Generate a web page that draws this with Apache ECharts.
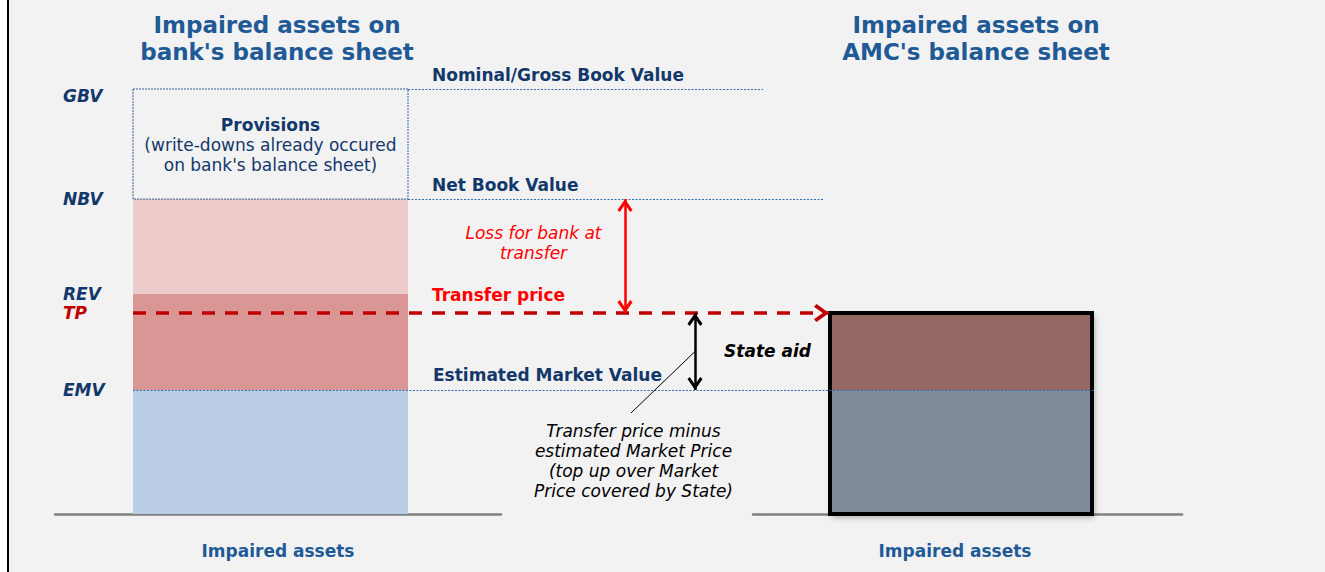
<!DOCTYPE html>
<html>
<head>
<meta charset="utf-8">
<title>Impaired assets transfer</title>
<script src="https://cdn.jsdelivr.net/npm/echarts@6/dist/echarts.min.js"></script>
<style>
html, body { margin: 0; padding: 0; background: #fff; }
#chart { position: absolute; left: 0; top: 0; width: 1325px; height: 572px; }
.frame { position: absolute; left: 0; top: 0; width: 7px; height: 572px; background: #fff; border-right: 2px solid #000; }
</style>
</head>
<body>
<div id="chart"></div>
<div class="frame"></div>
<script>
// value levels, in % of gross book value
const levelNames = ['GBV', 'NBV', 'REV', 'TP', 'EMV'];
const levelValues = [100, 74.1, 51.8, 47.3, 29.2];
const categories = ['Impaired assets'];
// stacks, bottom to top, each entry is the level at the segment's top
const bankStackTops = ['EMV', 'REV', 'NBV', 'GBV'];
const amcStackTops = ['EMV', 'TP'];
// reference lines with their captions
const refLineLevels = ['GBV', 'NBV', 'EMV'];
const refLineCaptions = ['Nominal/Gross Book Value', 'Net Book Value', 'Estimated Market Value'];

const FONT = "'DejaVu Sans', Verdana, sans-serif";
const FS = 17;
const NAVY = '#12386b';
const TITLE_BLUE = '#1f5a96';
const DOT_BLUE = '#2e6fb0';

const lv = name => levelValues[levelNames.indexOf(name)];

// layout (px)
const refLineX = { GBV: [408, 763], NBV: [408, 823], EMV: [133, 1094] };
const tpLineX = [133, 829];
const lossArrowX = 625;
const aidArrowX = 695;

const bankStyles = [
	{ fill: '#b9cde5' },
	{ fill: '#d99694' },
	{ fill: '#edcbca' },
	{ fill: 'none', stroke: '#2f5f93', lineWidth: 1, lineDash: [2, 1] }
];
const amcStyles = [{ fill: '#7f8b9b' }, { fill: '#956865' }];

function stackRects(api, tops, styles, width, shift) {
	const out = [];
	let prev = 0;
	tops.forEach((name, i) => {
		const top = lv(name);
		const p0 = api.coord([0, prev]);
		const p1 = api.coord([0, top]);
		out.push({
			type: 'rect',
			shape: { x: p0[0] + shift - width / 2, y: p1[1], width: width, height: p0[1] - p1[1] },
			style: styles[i]
		});
		prev = top;
	});
	return out;
}

function bankBar(params, api) {
	const w = 275, shift = -7.5;
	const children = stackRects(api, bankStackTops, bankStyles, w, shift);
	const a = api.coord([0, lv('GBV')]);
	const b = api.coord([0, lv('NBV')]);
	children.push({
		type: 'text',
		style: {
			x: a[0] + shift, y: (a[1] + b[1]) / 2 + 1,
			text: "{b|Provisions}\n(write-downs already occured\non bank's balance sheet)",
			align: 'center', verticalAlign: 'middle',
			fill: NAVY, fontSize: FS, fontFamily: FONT, lineHeight: 20,
			rich: { b: { fontWeight: 'bold', fontSize: FS, fontFamily: FONT, fill: NAVY, lineHeight: 20 } }
		}
	});
	return { type: 'group', children: children };
}

function amcBar(params, api) {
	const w = 262, shift = -6.5;
	const p0 = api.coord([0, 0]);
	const p1 = api.coord([0, lv('TP')]);
	const box = { x: p0[0] + shift - w / 2, y: p1[1], width: w, height: p0[1] - p1[1] };
	const children = [{
		type: 'rect', shape: box,
		style: { fill: '#7f8b9b', shadowBlur: 6, shadowOffsetX: 2, shadowOffsetY: 3, shadowColor: 'rgba(0,0,0,0.35)' }
	}];
	stackRects(api, amcStackTops, amcStyles, w, shift).forEach(r => children.push(r));
	children.push({ type: 'rect', shape: box, style: { fill: 'none', stroke: '#000', lineWidth: 4 } });
	return { type: 'group', children: children };
}

const chevron = 'path://M8,0 L16,10 L13.6,12 L8,5 L2.4,12 L0,10 Z';
const lineLabelBase = {
	show: true, position: 'insideStartTop', color: NAVY, fontWeight: 'bold',
	fontSize: FS, fontFamily: FONT
};

const markLines = [];
refLineLevels.forEach((name, i) => {
	markLines.push([
		{
			coord: [refLineX[name][0], lv(name)],
			lineStyle: { color: DOT_BLUE, width: 1, type: [2, 1.5] },
			label: Object.assign({}, lineLabelBase, {
				formatter: refLineCaptions[i],
				distance: [name === 'EMV' ? 300 : 24, 6]
			})
		},
		{ coord: [refLineX[name][1], lv(name)] }
	]);
});
// transfer price dashed arrow
markLines.push([
	{
		coord: [tpLineX[0], lv('TP')],
		symbol: 'none',
		lineStyle: { color: '#c00000', width: 3.5, type: [13, 10] },
		label: Object.assign({}, lineLabelBase, { formatter: 'Transfer price', color: '#ff0000', distance: [299, 9] })
	},
	{ coord: [tpLineX[1], lv('TP')], symbol: chevron, symbolSize: [18, 15], symbolOffset: [0, '50%'] }
]);
// loss for bank: NBV down to TP
markLines.push([
	{
		coord: [lossArrowX, lv('NBV')], symbol: chevron, symbolSize: [15, 13], symbolOffset: [0, '50%'],
		lineStyle: { color: '#ff0000', width: 2.5, type: 'solid' }, label: { show: false }
	},
	{ coord: [lossArrowX, lv('TP')], symbol: chevron, symbolSize: [15, 13], symbolOffset: [0, '50%'] }
]);
// state aid: TP down to EMV
markLines.push([
	{
		coord: [aidArrowX, lv('TP')], symbol: chevron, symbolSize: [15, 13], symbolOffset: [0, '50%'],
		lineStyle: { color: '#000', width: 2.5, type: 'solid' }, label: { show: false }
	},
	{ coord: [aidArrowX, lv('EMV')], symbol: chevron, symbolSize: [15, 13], symbolOffset: [0, '50%'] }
]);
// leader line to the note
markLines.push([
	{
		coord: [aidArrowX, (lv('TP') + lv('EMV')) / 2], symbol: 'none',
		lineStyle: { color: '#000', width: 1, type: 'solid' }, label: { show: false }
	},
	{ x: 631, y: 413, symbol: 'none' }
]);

function levelLabel(v) {
	let best = 0;
	levelValues.forEach((x, i) => { if (Math.abs(x - v) < Math.abs(levelValues[best] - v)) best = i; });
	const n = levelNames[best];
	const style = n === 'TP' ? 'red' : (n === 'GBV' ? 'low' : 'navy');
	return '{' + style + '|' + n + '}';
}
const levelFont = { fontStyle: 'italic', fontWeight: 'bold', fontSize: FS, fontFamily: FONT };

const axisLabelStyle = { color: TITLE_BLUE, fontWeight: 'bold', fontSize: FS, fontFamily: FONT, margin: 28 };
const gridBox = { top: 89, bottom: 58, outerBoundsMode: 'none', containLabel: false };

const option = {
	animation: false,
	backgroundColor: '#f2f2f2',
	grid: [
		Object.assign({ left: 55, width: 446 }, gridBox),
		Object.assign({ left: 753, width: 429 }, gridBox),
		Object.assign({ left: 0, right: 0 }, gridBox)
	],
	xAxis: [
		{
			gridIndex: 0, type: 'category', data: categories,
			axisLine: { lineStyle: { color: '#808080', width: 2.5 } }, axisTick: { show: false },
			axisLabel: axisLabelStyle
		},
		{
			gridIndex: 1, type: 'category', data: categories,
			axisLine: { lineStyle: { color: '#808080', width: 2.5 } }, axisTick: { show: false },
			axisLabel: Object.assign({ padding: [0, 25, 0, 0] }, axisLabelStyle)
		},
		{ gridIndex: 2, type: 'value', min: 0, max: 1325, show: false }
	],
	yAxis: [
		{
			gridIndex: 0, type: 'value', min: 0, max: 100,
			axisLine: { show: false }, axisTick: { show: false }, splitLine: { show: false },
			axisLabel: {
				inside: true, margin: 8, customValues: levelValues, formatter: levelLabel,
				rich: {
					navy: Object.assign({ color: NAVY }, levelFont),
					low: Object.assign({ color: NAVY, padding: [14, 0, 0, 0] }, levelFont),
					red: Object.assign({ color: '#c00000' }, levelFont)
				}
			}
		},
		{ gridIndex: 1, type: 'value', min: 0, max: 100, show: false },
		{ gridIndex: 2, type: 'value', min: 0, max: 100, show: false }
	],
	graphic: [
		{
			type: 'text', x: 277, y: 38.5, silent: true,
			style: {
				text: "Impaired assets on\nbank's balance sheet", align: 'center', verticalAlign: 'middle',
				fill: TITLE_BLUE, fontWeight: 'bold', fontSize: 23, fontFamily: FONT, lineHeight: 27
			}
		},
		{
			type: 'text', x: 976, y: 38.5, silent: true,
			style: {
				text: "Impaired assets on\nAMC's balance sheet", align: 'center', verticalAlign: 'middle',
				fill: TITLE_BLUE, fontWeight: 'bold', fontSize: 23, fontFamily: FONT, lineHeight: 27
			}
		},
		{
			type: 'text', x: 533.5, y: 243, silent: true,
			style: {
				text: 'Loss for bank at\ntransfer', align: 'center', verticalAlign: 'middle',
				fill: '#ff0000', fontStyle: 'italic', fontSize: FS, fontFamily: FONT, lineHeight: 20
			}
		},
		{
			type: 'text', x: 767.5, y: 351, silent: true,
			style: {
				text: 'State aid', align: 'center', verticalAlign: 'middle',
				fill: '#000', fontStyle: 'italic', fontWeight: 'bold', fontSize: FS, fontFamily: FONT
			}
		},
		{
			type: 'text', x: 633.5, y: 461, silent: true,
			style: {
				text: 'Transfer price minus\nestimated Market Price\n(top up over Market\nPrice covered by State)',
				align: 'center', verticalAlign: 'middle',
				fill: '#000', fontStyle: 'italic', fontSize: FS, fontFamily: FONT, lineHeight: 20
			}
		}
	],
	series: [
		{
			type: 'custom', name: 'Bank', xAxisIndex: 0, yAxisIndex: 0, z: 2, silent: true, clip: false,
			data: [[0, lv('GBV')]], renderItem: bankBar
		},
		{
			type: 'custom', name: 'AMC', xAxisIndex: 1, yAxisIndex: 1, z: 2, silent: true, clip: false,
			data: [[0, lv('TP')]], renderItem: amcBar
		},
		{
			type: 'line', name: 'Levels', xAxisIndex: 2, yAxisIndex: 2, z: 10, data: [], clip: false,
			markLine: { silent: true, animation: false, symbol: ['none', 'none'], label: { show: false }, data: markLines }
		}
	]
};

const chart = echarts.init(document.getElementById('chart'), null, { renderer: 'svg' });
chart.setOption(option);
</script>
</body>
</html>
